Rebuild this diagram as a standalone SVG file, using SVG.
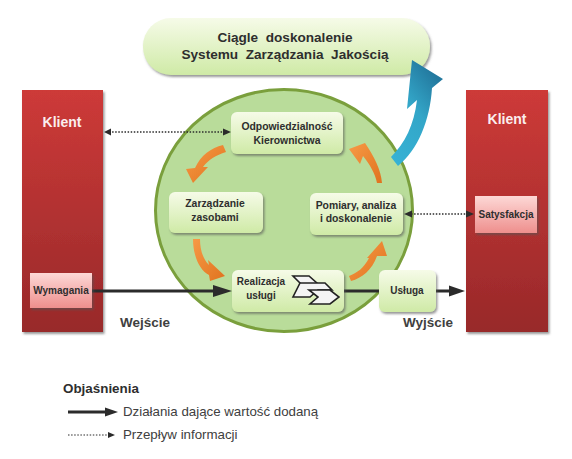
<svg xmlns="http://www.w3.org/2000/svg" width="572" height="459" viewBox="0 0 572 459">
<style>
text{font-family:"Liberation Sans",Arial,sans-serif;font-weight:bold;fill:#2e2e2e;text-anchor:middle;white-space:pre}
.n{font-size:10.4px}
.s{font-size:10px}
.k{font-size:14px;fill:#fbeeee}
.io{font-size:13.5px;fill:#404040}
.t{font-size:13.6px}
.leg{font-size:13.3px;font-weight:normal;text-anchor:start;fill:#404040}
.g{fill:url(#gg);filter:url(#sh)}
.r{fill:url(#rr);filter:url(#sh)}
.p{fill:url(#pp);filter:url(#sh)}
.o{fill:url(#oo)}
.solid{fill:none;stroke:#2b2b2b;stroke-width:3}
.dot{fill:none;stroke:#2b2b2b;stroke-width:1.5;stroke-dasharray:1.5 1.6}
.ah{fill:#2b2b2b}
.ic{fill:#f4f4f4;stroke:#222;stroke-width:1.6}
</style>
<defs>
<linearGradient id="gg" x1="0" y1="0" x2="0" y2="1"><stop offset="0" stop-color="#f6fbe8"/><stop offset="1" stop-color="#cfeaa6"/></linearGradient>
<linearGradient id="rr" x1="0" y1="0" x2="0" y2="1"><stop offset="0" stop-color="#cd3a38"/><stop offset="1" stop-color="#98292a"/></linearGradient>
<linearGradient id="pp" x1="0" y1="0" x2="0" y2="1"><stop offset="0" stop-color="#fdd8d6"/><stop offset="1" stop-color="#ee8f8d"/></linearGradient>
<linearGradient id="oo" x1="0" y1="0" x2="1" y2="1"><stop offset="0" stop-color="#f79a46"/><stop offset="1" stop-color="#e0731f"/></linearGradient>
<linearGradient id="bb" x1="0" y1="1" x2="0.6" y2="0"><stop offset="0" stop-color="#36b3d6"/><stop offset="0.6" stop-color="#33a6c8"/><stop offset="1" stop-color="#23799f"/></linearGradient>
<filter id="sh" x="-15%" y="-15%" width="130%" height="130%"><feDropShadow dx="1.5" dy="2" stdDeviation="1.2" flood-color="#555" flood-opacity="0.6"/></filter>
</defs>

<g id="circle"><ellipse cx="284" cy="210.5" rx="128.5" ry="121" fill="#b9dc9a" stroke="#7a9f3c" stroke-width="3"/></g>

<g id="improvement"><rect class="g" x="143" y="18" width="287" height="57" rx="28" ry="28"/>
<text class="t" x="285" y="42">Ciągle  doskonalenie</text>
<text class="t" x="285" y="59">Systemu  Zarządzania  Jakością</text></g>

<g id="client-left"><rect class="r" x="22" y="90" width="81" height="242"/><text class="k" x="62" y="127">Klient</text></g>
<g id="client-right"><rect class="r" x="466" y="90" width="82" height="242"/><text class="k" x="507" y="124">Klient</text></g>

<g id="connectors">
<path class="solid" d="M92 291H215M344 291H380M436 291H450"/>
<path class="ah" d="M232 291L213 285V297ZM465 291L449 285.500V296.500Z"/>
<path class="dot" d="M109 132H224M411 214H468"/>
<path class="ah" d="M104 132L111 128.500V135.500ZM231 132L223 128.500V135.500ZM404 214L412 210.500V217.500ZM474 214L466 210.500V217.500Z"/>
<path class="o" d="M223 145C211 148 201 155 195 168L186 169L193 183L208 167L203 167C208 160 216 155 226 152Z"/>
<path class="o" d="M382 183C381 170 374 156 365 143L349 149L360 164L363 156C370 165 375 173 377 183Z"/>
<path class="o" d="M193 239C193 255 199 270 209 275L210 281L225 276L208 260L209 265C203 259 200 250 200 239Z"/>
<path class="o" d="M349 276C357 273 364 268 369 258L367 258L382 241L387 256L377 256C372 270 362 278 351 281Z"/>
<path fill="url(#bb)" d="M391 157C405 143 414 125 417 100L407 109L412 60L443 79L432 88C430 120 418 150 398 166Z"/>
</g>

<g id="responsibility"><rect class="g" x="231" y="112" width="112" height="42" rx="6"/><text class="n" x="287" y="130">Odpowiedzialność</text><text class="n" x="287" y="144">Kierownictwa</text></g>
<g id="resources"><rect class="g" x="169" y="192" width="94" height="41" rx="6"/><text class="n" x="215" y="207">Zarządzanie</text><text class="n" x="215" y="221">zasobami</text></g>
<g id="measure"><rect class="g" x="310" y="193" width="93" height="42" rx="6"/><text class="n" x="356" y="209">Pomiary, analiza</text><text class="n" x="356" y="222">i doskonalenie</text></g>
<g id="realization"><rect class="g" x="232" y="270" width="112" height="42" rx="6"/><text class="s" x="261" y="285">Realizacja</text><text class="s" x="261" y="299">usługi</text>
<path class="ic" d="M293 276H309L318 284H301Z"/>
<path class="ic" d="M300 283H325L332 290H318L310 297H293Z"/>
<path class="ic" d="M309 290H330L339 297L330 304H310L318 297Z"/></g>
<g id="service"><rect class="g" x="379" y="270" width="57" height="42" rx="6"/><text class="s" x="407" y="294">Usługa</text></g>
<g id="requirements"><rect class="p" x="30" y="273" width="62" height="35"/><text class="s" x="61" y="294">Wymagania</text></g>
<g id="satisfaction"><rect class="p" x="475" y="196" width="62" height="37"/><text class="s" x="506" y="218">Satysfakcja</text></g>

<text class="io" x="145" y="327">Wejście</text>
<text class="io" x="428" y="327">Wyjście</text>

<g id="legend">
<text x="63" y="393" font-size="13.400" style="text-anchor:start">Objaśnienia</text>
<path class="solid" d="M68 412H105"/><path class="ah" d="M118 412L105 407.500V416.500Z"/>
<text class="leg" x="123" y="416">Działania dające wartość dodaną</text>
<path class="dot" d="M68 435H108" style="stroke-width:1"/><path class="ah" d="M115 435L108 432V438Z"/>
<text class="leg" x="123" y="439">Przepływ informacji</text>
</g>
</svg>
